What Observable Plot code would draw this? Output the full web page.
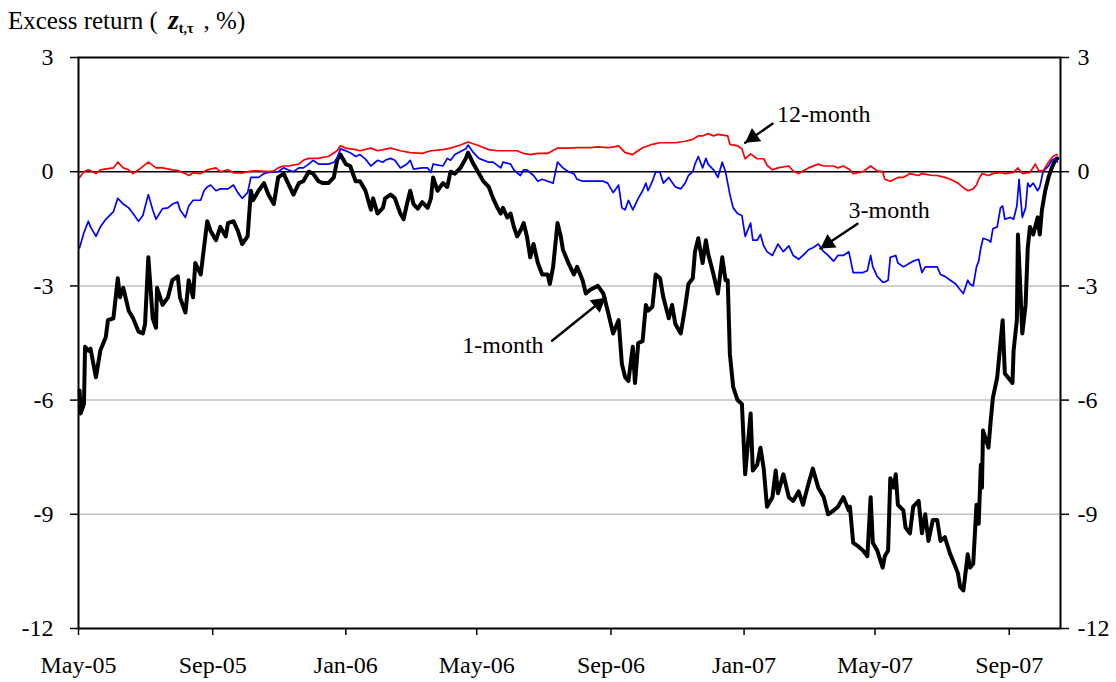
<!DOCTYPE html>
<html><head><meta charset="utf-8">
<script src="https://cdn.jsdelivr.net/npm/d3@7"></script>
<script src="https://cdn.jsdelivr.net/npm/@observablehq/plot@0.6"></script>
<style>
body{margin:0;background:#fff;width:1116px;height:682px;overflow:hidden;font-family:"Liberation Serif","Times New Roman",serif;}
#title{height:40px;box-sizing:border-box;padding:7px 0 0 8px;font-size:25px;line-height:1;white-space:nowrap;}
#title .z{font-size:27px;font-weight:bold;font-style:italic;margin-left:4px;}
#title sub{font-size:14px;font-weight:bold;line-height:0;vertical-align:-4px;margin-right:4px;}
#chart svg{display:block;}
</style></head><body>
<div id="title">Excess return ( <span class="z">z</span><sub>t,τ</sub> , %)</div>
<div id="chart"></div>
<script>
const xDomain = ["2005-05-01", "2007-10-18"];
const xTicks = ["2005-05-01","2005-09-01","2006-01-01","2006-05-01","2006-09-01","2007-01-01","2007-05-01","2007-09-01"];
const yTicks = [3, 0, -3, -6, -9, -12];
const gridValues = [-3, -6, -9];

const oneMonth = [["2005-05-02",-5.75],["2005-05-03",-6.35],["2005-05-06",-6.1],["2005-05-07",-4.6],["2005-05-10",-4.7],["2005-05-12",-4.65],["2005-05-17",-5.4],["2005-05-21",-4.7],["2005-05-26",-4.35],["2005-05-28",-3.9],["2005-06-02",-3.85],["2005-06-06",-2.8],["2005-06-08",-3.3],["2005-06-11",-3.05],["2005-06-16",-3.65],["2005-06-20",-3.85],["2005-06-25",-4.2],["2005-06-29",-4.25],["2005-07-01",-4.0],["2005-07-04",-2.25],["2005-07-08",-3.85],["2005-07-11",-4.1],["2005-07-12",-3.05],["2005-07-17",-3.5],["2005-07-22",-3.3],["2005-07-26",-2.85],["2005-07-31",-2.75],["2005-08-02",-3.3],["2005-08-07",-3.7],["2005-08-10",-2.85],["2005-08-14",-3.3],["2005-08-16",-2.4],["2005-08-21",-2.7],["2005-08-24",-2.0],["2005-08-27",-1.3],["2005-08-30",-1.55],["2005-09-04",-1.8],["2005-09-08",-1.45],["2005-09-13",-1.7],["2005-09-15",-1.35],["2005-09-20",-1.3],["2005-09-24",-1.55],["2005-09-28",-1.9],["2005-10-03",-1.7],["2005-10-06",-0.5],["2005-10-08",-0.75],["2005-10-13",-0.5],["2005-10-18",-0.3],["2005-10-22",-0.6],["2005-10-27",-0.85],["2005-10-31",-0.15],["2005-11-05",-0.05],["2005-11-09",-0.3],["2005-11-14",-0.6],["2005-11-19",-0.3],["2005-11-23",-0.25],["2005-11-28",0.0],["2005-12-02",-0.05],["2005-12-07",-0.25],["2005-12-11",-0.3],["2005-12-16",-0.3],["2005-12-21",-0.15],["2005-12-24",0.3],["2005-12-27",0.45],["2006-01-01",0.2],["2006-01-05",0.15],["2006-01-10",-0.25],["2006-01-14",-0.25],["2006-01-19",-0.5],["2006-01-24",-1.0],["2006-01-26",-0.7],["2006-01-30",-1.1],["2006-02-04",-0.95],["2006-02-06",-0.7],["2006-02-11",-0.6],["2006-02-15",-0.7],["2006-02-20",-1.1],["2006-02-23",-1.25],["2006-02-26",-0.85],["2006-03-01",-0.5],["2006-03-04",-0.85],["2006-03-08",-0.97],["2006-03-12",-0.8],["2006-03-17",-0.95],["2006-03-20",-0.7],["2006-03-22",-0.15],["2006-03-26",-0.5],["2006-03-31",-0.3],["2006-04-04",-0.4],["2006-04-07",0.0],["2006-04-11",-0.05],["2006-04-16",0.1],["2006-04-21",0.35],["2006-04-23",0.5],["2006-04-28",0.2],["2006-05-03",-0.05],["2006-05-07",-0.25],["2006-05-12",-0.4],["2006-05-16",-0.7],["2006-05-20",-0.95],["2006-05-23",-1.1],["2006-05-25",-0.95],["2006-05-29",-1.2],["2006-06-01",-1.1],["2006-06-04",-1.45],["2006-06-07",-1.7],["2006-06-10",-1.55],["2006-06-13",-1.35],["2006-06-16",-1.7],["2006-06-19",-2.25],["2006-06-22",-1.9],["2006-06-26",-2.4],["2006-06-30",-2.7],["2006-07-05",-2.7],["2006-07-07",-2.95],["2006-07-10",-2.5],["2006-07-14",-1.35],["2006-07-17",-1.7],["2006-07-19",-2.05],["2006-07-24",-2.4],["2006-07-29",-2.7],["2006-08-01",-2.5],["2006-08-06",-2.85],["2006-08-09",-3.2],["2006-08-13",-3.1],["2006-08-20",-3.0],["2006-08-25",-3.2],["2006-08-29",-3.65],["2006-09-03",-4.25],["2006-09-08",-3.9],["2006-09-11",-5.05],["2006-09-14",-5.4],["2006-09-17",-5.5],["2006-09-21",-4.6],["2006-09-23",-5.55],["2006-09-26",-4.5],["2006-09-30",-4.45],["2006-10-03",-3.5],["2006-10-05",-3.65],["2006-10-09",-3.55],["2006-10-12",-2.7],["2006-10-16",-2.8],["2006-10-19",-3.3],["2006-10-24",-3.85],["2006-10-27",-3.5],["2006-10-30",-4.0],["2006-11-04",-4.25],["2006-11-08",-3.55],["2006-11-11",-2.95],["2006-11-15",-2.8],["2006-11-17",-2.1],["2006-11-20",-1.75],["2006-11-24",-2.4],["2006-11-27",-1.8],["2006-11-29",-2.15],["2006-12-04",-2.7],["2006-12-08",-3.2],["2006-12-12",-2.25],["2006-12-15",-2.85],["2006-12-17",-2.85],["2006-12-19",-4.8],["2006-12-22",-5.65],["2006-12-26",-6.0],["2006-12-30",-6.1],["2007-01-02",-7.95],["2007-01-07",-6.35],["2007-01-09",-7.85],["2007-01-13",-7.7],["2007-01-16",-7.25],["2007-01-19",-7.8],["2007-01-22",-8.8],["2007-01-27",-8.55],["2007-01-30",-7.85],["2007-02-01",-8.45],["2007-02-06",-7.95],["2007-02-11",-8.55],["2007-02-15",-8.65],["2007-02-20",-8.4],["2007-02-24",-8.75],["2007-03-01",-8.2],["2007-03-05",-7.8],["2007-03-10",-8.3],["2007-03-15",-8.55],["2007-03-19",-9.0],["2007-03-24",-8.9],["2007-03-28",-8.8],["2007-04-02",-8.55],["2007-04-07",-8.9],["2007-04-08",-8.8],["2007-04-11",-9.75],["2007-04-16",-9.85],["2007-04-20",-9.95],["2007-04-24",-10.1],["2007-04-27",-8.55],["2007-04-29",-9.75],["2007-05-03",-9.95],["2007-05-08",-10.4],["2007-05-10",-10.1],["2007-05-13",-9.95],["2007-05-15",-8.05],["2007-05-18",-8.3],["2007-05-20",-7.95],["2007-05-22",-8.75],["2007-05-27",-8.9],["2007-05-29",-9.35],["2007-06-02",-9.5],["2007-06-05",-8.8],["2007-06-10",-8.65],["2007-06-13",-9.5],["2007-06-16",-9.0],["2007-06-19",-9.7],["2007-06-23",-9.15],["2007-06-27",-9.15],["2007-06-30",-9.7],["2007-07-04",-9.6],["2007-07-09",-10.05],["2007-07-14",-10.4],["2007-07-16",-10.55],["2007-07-18",-10.9],["2007-07-21",-11.0],["2007-07-25",-10.05],["2007-07-27",-10.4],["2007-07-30",-10.3],["2007-08-02",-8.75],["2007-08-04",-9.25],["2007-08-06",-7.7],["2007-08-07",-8.3],["2007-08-08",-6.8],["2007-08-13",-7.25],["2007-08-15",-6.55],["2007-08-17",-5.95],["2007-08-21",-5.4],["2007-08-26",-3.9],["2007-08-28",-5.3],["2007-09-04",-5.55],["2007-09-05",-4.7],["2007-09-08",-3.9],["2007-09-09",-1.65],["2007-09-13",-4.25],["2007-09-16",-3.5],["2007-09-18",-2.0],["2007-09-20",-1.45],["2007-09-23",-1.65],["2007-09-27",-1.2],["2007-09-29",-1.65],["2007-10-01",-1.0],["2007-10-04",-0.5],["2007-10-07",-0.15],["2007-10-10",0.1],["2007-10-13",0.3],["2007-10-15",0.35]];

const threeMonth = [["2005-05-02",-2.0],["2005-05-06",-1.6],["2005-05-10",-1.3],["2005-05-12",-1.45],["2005-05-17",-1.7],["2005-05-21",-1.45],["2005-05-26",-1.25],["2005-06-02",-1.05],["2005-06-06",-0.7],["2005-06-11",-0.85],["2005-06-16",-0.95],["2005-06-20",-1.1],["2005-06-25",-1.3],["2005-06-29",-1.15],["2005-07-04",-0.6],["2005-07-08",-1.0],["2005-07-11",-1.25],["2005-07-17",-0.97],["2005-07-22",-0.95],["2005-07-26",-0.85],["2005-07-31",-0.8],["2005-08-02",-1.0],["2005-08-07",-1.2],["2005-08-10",-0.9],["2005-08-14",-0.75],["2005-08-21",-0.75],["2005-08-24",-0.5],["2005-08-27",-0.4],["2005-08-30",-0.35],["2005-09-04",-0.5],["2005-09-08",-0.45],["2005-09-15",-0.45],["2005-09-20",-0.35],["2005-09-24",-0.55],["2005-09-28",-0.7],["2005-10-03",-0.55],["2005-10-06",-0.15],["2005-10-13",-0.15],["2005-10-18",-0.05],["2005-10-22",-0.02],["2005-10-31",0.0],["2005-11-05",0.1],["2005-11-09",0.05],["2005-11-14",0.0],["2005-11-19",0.1],["2005-11-23",0.1],["2005-11-28",0.2],["2005-12-02",0.3],["2005-12-07",0.2],["2005-12-11",0.2],["2005-12-16",0.2],["2005-12-21",0.25],["2005-12-24",0.35],["2005-12-27",0.6],["2006-01-01",0.55],["2006-01-05",0.5],["2006-01-10",0.4],["2006-01-14",0.45],["2006-01-19",0.33],["2006-01-24",0.15],["2006-01-30",0.3],["2006-02-04",0.25],["2006-02-06",0.3],["2006-02-11",0.35],["2006-02-15",0.3],["2006-02-20",0.1],["2006-02-26",0.2],["2006-03-01",0.3],["2006-03-04",0.07],["2006-03-12",0.1],["2006-03-17",0.1],["2006-03-20",-0.02],["2006-03-22",0.2],["2006-03-31",0.15],["2006-04-04",0.35],["2006-04-07",0.3],["2006-04-11",0.45],["2006-04-21",0.6],["2006-04-23",0.7],["2006-04-28",0.5],["2006-05-03",0.35],["2006-05-12",0.25],["2006-05-16",0.25],["2006-05-23",0.1],["2006-05-25",0.25],["2006-06-01",0.2],["2006-06-04",0.05],["2006-06-10",-0.1],["2006-06-13",0.05],["2006-06-16",0.05],["2006-06-22",-0.1],["2006-06-26",-0.25],["2006-06-30",-0.2],["2006-07-05",-0.25],["2006-07-10",-0.3],["2006-07-14",0.25],["2006-07-19",0.1],["2006-07-24",0.0],["2006-07-29",-0.05],["2006-08-01",-0.2],["2006-08-06",-0.25],["2006-08-13",-0.25],["2006-08-20",-0.25],["2006-08-25",-0.25],["2006-08-29",-0.3],["2006-09-03",-0.55],["2006-09-08",-0.35],["2006-09-11",-0.95],["2006-09-14",-1.0],["2006-09-17",-0.75],["2006-09-21",-1.0],["2006-09-26",-0.7],["2006-09-30",-0.5],["2006-10-03",-0.3],["2006-10-05",-0.5],["2006-10-09",-0.25],["2006-10-12",0.0],["2006-10-16",-0.02],["2006-10-19",-0.3],["2006-10-24",-0.15],["2006-10-30",-0.4],["2006-11-04",-0.45],["2006-11-08",-0.3],["2006-11-11",-0.1],["2006-11-15",0.0],["2006-11-17",0.2],["2006-11-20",0.4],["2006-11-24",0.1],["2006-11-27",0.35],["2006-11-29",0.2],["2006-12-04",0.05],["2006-12-08",-0.15],["2006-12-12",0.25],["2006-12-15",0.0],["2006-12-17",-0.3],["2006-12-19",-0.6],["2006-12-22",-0.95],["2006-12-26",-1.1],["2006-12-30",-1.15],["2007-01-02",-1.7],["2007-01-07",-1.35],["2007-01-09",-1.8],["2007-01-13",-1.8],["2007-01-16",-1.65],["2007-01-19",-1.95],["2007-01-22",-2.1],["2007-01-27",-2.2],["2007-02-01",-1.9],["2007-02-06",-2.1],["2007-02-11",-1.95],["2007-02-15",-2.2],["2007-02-20",-2.3],["2007-02-24",-2.2],["2007-03-01",-2.05],["2007-03-05",-2.0],["2007-03-10",-1.9],["2007-03-15",-2.1],["2007-03-19",-2.2],["2007-03-24",-2.35],["2007-03-28",-2.2],["2007-04-02",-2.2],["2007-04-07",-2.1],["2007-04-11",-2.65],["2007-04-16",-2.65],["2007-04-20",-2.65],["2007-04-24",-2.6],["2007-04-27",-2.2],["2007-04-29",-2.5],["2007-05-03",-2.75],["2007-05-08",-2.9],["2007-05-10",-2.9],["2007-05-13",-2.85],["2007-05-15",-2.25],["2007-05-20",-2.2],["2007-05-22",-2.4],["2007-05-27",-2.5],["2007-06-02",-2.4],["2007-06-05",-2.35],["2007-06-10",-2.3],["2007-06-13",-2.65],["2007-06-16",-2.5],["2007-06-23",-2.5],["2007-06-27",-2.5],["2007-06-30",-2.7],["2007-07-04",-2.75],["2007-07-09",-2.85],["2007-07-14",-2.95],["2007-07-18",-3.1],["2007-07-21",-3.2],["2007-07-25",-2.85],["2007-07-27",-2.95],["2007-07-30",-3.0],["2007-08-02",-2.5],["2007-08-04",-2.35],["2007-08-06",-2.0],["2007-08-08",-1.75],["2007-08-13",-1.8],["2007-08-15",-1.85],["2007-08-17",-1.5],["2007-08-21",-1.45],["2007-08-24",-0.95],["2007-08-26",-0.9],["2007-08-28",-1.25],["2007-09-02",-1.2],["2007-09-05",-1.25],["2007-09-08",-0.9],["2007-09-10",-0.2],["2007-09-13",-1.2],["2007-09-16",-0.95],["2007-09-18",-0.3],["2007-09-20",-0.4],["2007-09-23",-0.3],["2007-09-27",-0.5],["2007-09-29",-0.4],["2007-10-02",0.0],["2007-10-07",0.15],["2007-10-10",0.3],["2007-10-13",0.35],["2007-10-15",0.25]];

const twelveMonth = [["2005-05-02",-0.15],["2005-05-06",0.0],["2005-05-10",0.05],["2005-05-17",-0.05],["2005-05-21",0.05],["2005-05-28",0.08],["2005-06-02",0.1],["2005-06-06",0.25],["2005-06-11",0.1],["2005-06-16",0.05],["2005-06-20",-0.05],["2005-06-25",0.05],["2005-07-04",0.25],["2005-07-11",0.1],["2005-07-17",0.1],["2005-07-26",0.05],["2005-07-31",0.03],["2005-08-07",-0.05],["2005-08-10",-0.1],["2005-08-14",-0.03],["2005-08-21",-0.05],["2005-08-24",0.0],["2005-08-27",0.05],["2005-09-04",0.1],["2005-09-08",0.0],["2005-09-15",0.05],["2005-09-20",-0.03],["2005-09-28",-0.03],["2005-10-03",0.0],["2005-10-08",0.02],["2005-10-13",0.02],["2005-10-22",0.0],["2005-10-27",0.02],["2005-10-31",0.1],["2005-11-05",0.15],["2005-11-09",0.15],["2005-11-19",0.2],["2005-11-23",0.3],["2005-11-28",0.35],["2005-12-07",0.35],["2005-12-11",0.38],["2005-12-16",0.4],["2005-12-24",0.55],["2005-12-27",0.68],["2006-01-01",0.62],["2006-01-05",0.6],["2006-01-10",0.58],["2006-01-14",0.55],["2006-01-24",0.62],["2006-01-30",0.55],["2006-02-11",0.62],["2006-02-20",0.55],["2006-03-01",0.5],["2006-03-12",0.48],["2006-03-20",0.55],["2006-03-31",0.58],["2006-04-07",0.62],["2006-04-16",0.7],["2006-04-23",0.78],["2006-05-03",0.68],["2006-05-12",0.58],["2006-05-20",0.55],["2006-05-29",0.55],["2006-06-07",0.55],["2006-06-13",0.48],["2006-06-19",0.45],["2006-06-26",0.48],["2006-07-05",0.48],["2006-07-14",0.62],["2006-07-24",0.62],["2006-08-01",0.63],["2006-08-13",0.63],["2006-08-20",0.65],["2006-08-29",0.63],["2006-09-03",0.65],["2006-09-08",0.68],["2006-09-14",0.5],["2006-09-21",0.45],["2006-09-23",0.5],["2006-09-30",0.63],["2006-10-05",0.68],["2006-10-09",0.72],["2006-10-16",0.76],["2006-10-24",0.76],["2006-10-30",0.76],["2006-11-08",0.8],["2006-11-15",0.85],["2006-11-20",0.94],["2006-11-24",0.94],["2006-11-29",1.0],["2006-12-04",0.94],["2006-12-08",0.98],["2006-12-17",0.94],["2006-12-19",0.72],["2006-12-26",0.68],["2006-12-30",0.6],["2007-01-02",0.34],["2007-01-07",0.47],["2007-01-13",0.34],["2007-01-19",0.34],["2007-01-22",0.17],["2007-01-27",0.05],["2007-02-01",0.1],["2007-02-11",0.15],["2007-02-15",0.02],["2007-02-20",-0.05],["2007-02-24",0.02],["2007-03-01",0.1],["2007-03-10",0.2],["2007-03-15",0.15],["2007-03-24",0.15],["2007-03-28",0.1],["2007-04-02",0.15],["2007-04-08",0.05],["2007-04-11",-0.05],["2007-04-20",0.0],["2007-04-27",0.15],["2007-05-03",0.02],["2007-05-08",0.0],["2007-05-10",-0.2],["2007-05-15",-0.25],["2007-05-22",-0.15],["2007-05-27",-0.15],["2007-06-02",-0.05],["2007-06-10",-0.1],["2007-06-13",-0.05],["2007-06-23",-0.1],["2007-06-27",-0.1],["2007-07-04",-0.15],["2007-07-09",-0.2],["2007-07-16",-0.3],["2007-07-21",-0.42],["2007-07-25",-0.5],["2007-07-30",-0.45],["2007-08-02",-0.35],["2007-08-04",-0.2],["2007-08-07",-0.05],["2007-08-13",-0.1],["2007-08-17",-0.05],["2007-08-24",-0.02],["2007-08-28",-0.05],["2007-09-05",-0.02],["2007-09-09",0.1],["2007-09-13",-0.05],["2007-09-20",-0.02],["2007-09-25",0.2],["2007-09-28",0.02],["2007-10-02",0.02],["2007-10-07",0.25],["2007-10-11",0.4],["2007-10-15",0.45]];

const labelTexts = ["12-month", "3-month", "1-month"];
const labelDates = ["2007-03-15", "2007-05-14", "2006-05-25"];
const labelValues = [1.51, -1.02, -4.57];
const arrowFromDates = ["2007-01-27", "2007-04-15", "2006-07-09"];
const arrowFromValues = [1.26, -1.37, -4.44];
const arrowToDates = ["2007-01-02", "2007-03-12", "2006-08-27"];
const arrowToValues = [0.76, -2.02, -3.31];

const parse = d3.utcParse("%Y-%m-%d");
const rows = arr => arr.map(([d, v]) => ({date: parse(d), value: v}));
const labels = labelTexts.map((t, i) => ({text: t, date: parse(labelDates[i]), value: labelValues[i]}));
const arrows = labelTexts.map((t, i) => ({x1: parse(arrowFromDates[i]), y1: arrowFromValues[i], x2: parse(arrowToDates[i]), y2: arrowToValues[i]}));
const fmt = d => String(d);

// filled arrow heads: a triangle at each arrow tip, turned along its shaft
const headSpecs = [{rotate: 235, dx: 7.6, dy: -5.4}, {rotate: 236, dx: 7.7, dy: -5.2}, {rotate: 51, dx: -7.2, dy: 5.9}];
const headMarks = arrows.map((a, i) => Plot.dot([a], {x: "x2", y: "y2", symbol: "triangle", r: 6, fill: "black", stroke: "none", rotate: headSpecs[i].rotate, dx: headSpecs[i].dx, dy: headSpecs[i].dy}));

const chart = Plot.plot({
  width: 1116,
  height: 642,
  marginTop: 17,
  marginBottom: 54,
  marginLeft: 78,
  marginRight: 56,
  style: {fontFamily: "'Liberation Serif', 'Times New Roman', serif", fontSize: "24px", background: "white", color: "black", overflow: "visible"},
  x: {type: "utc", domain: xDomain.map(parse)},
  y: {domain: [-12, 3]},
  marks: [
    Plot.ruleY(gridValues, {stroke: "#c0c0c0", strokeWidth: 1.5}),
    Plot.ruleY([0], {stroke: "black", strokeWidth: 1.5}),
    Plot.line(rows(oneMonth), {x: "date", y: "value", stroke: "black", strokeWidth: 4, strokeLinejoin: "round"}),
    Plot.line(rows(threeMonth), {x: "date", y: "value", stroke: "#0000ff", strokeWidth: 1.7}),
    Plot.line(rows(twelveMonth), {x: "date", y: "value", stroke: "#ff0000", strokeWidth: 1.7}),
    Plot.frame({stroke: "black", strokeWidth: 2}),
    Plot.axisX(xTicks.map(parse), {anchor: "bottom", tickSize: 7, tickPadding: 20, strokeWidth: 1.5, tickFormat: d3.utcFormat("%b-%y"), label: null, fontSize: 24}),
    Plot.axisY(yTicks, {anchor: "left", tickSize: 8, tickPadding: 17, strokeWidth: 1.5, tickFormat: fmt, label: null, fontSize: 24}),
    Plot.axisY(yTicks, {anchor: "right", tickSize: 8, tickPadding: 9, strokeWidth: 1.5, tickFormat: fmt, label: null, fontSize: 24}),
    Plot.arrow(arrows, {x1: "x1", y1: "y1", x2: "x2", y2: "y2", stroke: "black", strokeWidth: 2.4, headLength: 0}),
    ...headMarks,
    Plot.text(labels, {x: "date", y: "value", text: "text", fontSize: 24, textAnchor: "middle", lineAnchor: "middle", fill: "black"})
  ]
});
document.getElementById("chart").appendChild(chart);
</script>
</body></html>
